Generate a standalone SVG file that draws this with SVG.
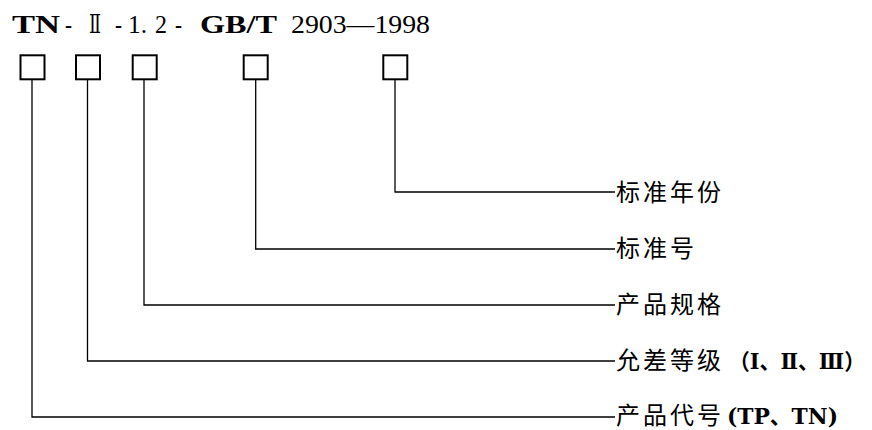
<svg xmlns="http://www.w3.org/2000/svg" width="872" height="430" viewBox="0 0 872 430">
<style>
.t{font-family:"Liberation Serif","DejaVu Serif","Noto Sans CJK SC",serif;font-size:26px;fill:#000}
.b{font-weight:bold}
.box{fill:#fff;stroke:#000;stroke-width:2}
.ln{fill:none;stroke:#000;stroke-width:1.3}
.lb{font-family:"Noto Sans CJK SC","Noto Sans CJK JP",sans-serif;font-size:24px;letter-spacing:3px;fill:#000}
.lp{font-family:"DejaVu Serif","Liberation Serif","Noto Sans CJK SC",serif;font-size:22px;font-weight:bold;fill:#000}
</style>
<rect width="872" height="430" fill="#fff"/>
<g id="title">
<text class="t b" x="12" y="33" textLength="48" lengthAdjust="spacingAndGlyphs">TN</text>
<text class="t" x="65" y="33" textLength="7" lengthAdjust="spacingAndGlyphs">-</text>
<text class="t" x="89" y="33" textLength="12" lengthAdjust="spacingAndGlyphs">Ⅱ</text>
<text class="t" x="115" y="33" textLength="7" lengthAdjust="spacingAndGlyphs">-</text>
<text class="t" x="128" y="33" textLength="19" lengthAdjust="spacingAndGlyphs">1.</text>
<text class="t" x="155" y="33" textLength="12" lengthAdjust="spacingAndGlyphs">2</text>
<text class="t" x="175" y="33" textLength="7" lengthAdjust="spacingAndGlyphs">-</text>
<text class="t b" x="200" y="33" textLength="77" lengthAdjust="spacingAndGlyphs">GB/T</text>
<text class="t" x="291" y="33" textLength="139" lengthAdjust="spacingAndGlyphs">2903—1998</text>
</g>
<g id="boxes">
<rect id="box1" class="box" x="20.5" y="55.3" width="24" height="24"/>
<rect id="box2" class="box" x="76" y="55.3" width="24" height="24"/>
<rect id="box3" class="box" x="132.7" y="55.3" width="24" height="24"/>
<rect id="box4" class="box" x="243.7" y="55.3" width="24" height="24"/>
<rect id="box5" class="box" x="383.3" y="55.3" width="24" height="24"/>
</g>
<g id="connectors">
<polyline class="ln" points="32,80 32,417 615,417"/>
<polyline class="ln" points="87.5,80 87.5,361 615,361"/>
<polyline class="ln" points="144,80 144,305 615,305"/>
<polyline class="ln" points="255.7,80 255.7,249 615,249"/>
<polyline class="ln" points="395,80 395,192 615,192"/>
</g>
<g id="label-year"><text class="lb" x="616" y="201">标准年份</text></g>
<g id="label-std"><text class="lb" x="616" y="257">标准号</text></g>
<g id="label-spec"><text class="lb" x="616" y="313">产品规格</text></g>
<g id="label-grade"><text class="lb" x="616" y="369">允差等级</text><text class="lp" x="729" y="369" textLength="136" lengthAdjust="spacingAndGlyphs">（Ⅰ、Ⅱ、Ⅲ）</text></g>
<g id="label-code"><text class="lb" x="616" y="424">产品代号</text><text class="lp" x="727" y="424" textLength="111" lengthAdjust="spacingAndGlyphs">(TP、TN)</text></g>
</svg>
